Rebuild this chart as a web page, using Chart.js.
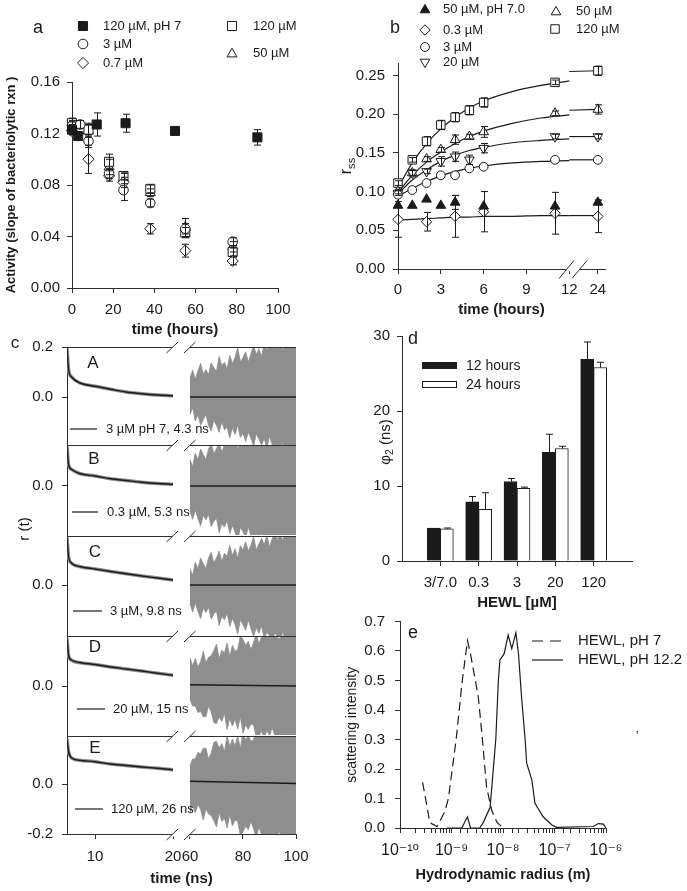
<!DOCTYPE html>
<html>
<head>
<meta charset="utf-8">
<title>HEWL figure</title>
<script src="https://cdn.jsdelivr.net/npm/chart.js@4.4.1/dist/chart.umd.min.js"></script>
<style>
  html, body { margin: 0; padding: 0; background: #fff; }
  body { position: relative; width: 687px; height: 891px; overflow: hidden; }
  canvas { position: absolute; }
</style>
</head>
<body>
<script>
// ---- panel a: lytic activity vs. time ----
const actT       = [0, 8, 18, 25, 38, 55, 78];
const actT3      = [0, 4, 8, 18, 25, 38, 55, 78];
const actT_pH7   = [0, 3, 12, 26, 50, 90];
const act_pH7    = [0.123, 0.118, 0.127, 0.128, 0.122, 0.117];
const actErr_pH7 = [0.004, 0.003, 0.009, 0.007, 0.002, 0.006];
const act3       = [0.126, 0.127, 0.114, 0.089, 0.076, 0.066, 0.046, 0.036];
const actErr3    = [0.004, 0.003, 0.005, 0.004, 0.008, 0.003, 0.004, 0.003];
const act07      = [0.122, 0.100, 0.087, 0.082, 0.046, 0.029, 0.021];
const actErr07   = [0.003, 0.011, 0.004, 0.004, 0.004, 0.005, 0.003];
const act120     = [0.128, 0.123, 0.098, 0.087, 0.077, 0.043, 0.028];
const actErr120  = [0.004, 0.005, 0.006, 0.003, 0.003, 0.004, 0.003];
const act50      = [0.125, 0.122, 0.094, 0.085, 0.074, 0.047, 0.032];
const actErr50   = [0.004, 0.005, 0.006, 0.004, 0.003, 0.007, 0.004];

// ---- panel b: steady state anisotropy ----
const rssTicks  = [0, 3, 6, 9, 12, 24];
const rssT      = [0, 1, 2, 3, 4, 5, 6, 11, 24];
const rss120    = [0.111, 0.141, 0.165, 0.186, 0.196, 0.205, 0.215, 0.241, 0.256];
const rssErr120 = [0.003, 0.003, 0.006, 0.006, 0.006, 0.006, 0.006, 0.003, 0.006];
const rss50     = [0.100, 0.124, 0.142, 0.154, 0.167, 0.171, 0.177, 0.201, 0.206];
const rssErr50  = [0.003, 0.004, 0.003, 0.003, 0.006, 0.003, 0.007, 0.003, 0.006];
const rss20     = [0.098, 0.124, 0.126, 0.139, 0.145, 0.141, 0.156, 0.171, 0.171];
const rssErr20  = [0.003, 0.003, 0.003, 0.006, 0.006, 0.006, 0.006, 0.003, 0.003];
const rss3      = [0.096, 0.102, 0.111, 0.121, 0.121, 0.130, 0.132, 0.141, 0.141];
const rssT03    = [0, 2, 4, 6, 11, 24];
const rss03     = [0.064, 0.061, 0.068, 0.074, 0.072, 0.068];
const rssErr03  = [0.023, 0.012, 0.027, 0.026, 0.027, 0.021];
const rssT7     = [0, 1, 2, 3, 4, 6, 11, 24];
const rss7      = [0.082, 0.082, 0.090, 0.082, 0.086, 0.081, 0.081, 0.086];
const rssErr7   = [0, 0, 0, 0, 0.009, 0, 0, 0.003];
// fitted curves
const fitT      = [0, 1, 2, 3, 4, 5, 6, 8, 10, 12];
const fit120    = [0.105, 0.137, 0.162, 0.181, 0.196, 0.208, 0.217, 0.229, 0.237, 0.243];
const fit50     = [0.099, 0.121, 0.138, 0.151, 0.162, 0.171, 0.178, 0.188, 0.195, 0.199];
const fit20     = [0.097, 0.115, 0.128, 0.139, 0.147, 0.153, 0.157, 0.163, 0.166, 0.168];
const fit3      = [0.094, 0.104, 0.113, 0.120, 0.126, 0.130, 0.133, 0.137, 0.139, 0.140];
const fit03     = [0.063, 0.064, 0.065, 0.066, 0.067, 0.067, 0.068, 0.068, 0.069, 0.069];
const fitLateT  = [12, 24];
const fitLate120 = [0.255, 0.256];
const fitLate50  = [0.205, 0.206];
const fitLate20  = [0.171, 0.171];
const fitLate3   = [0.141, 0.141];
const fitLate03  = [0.069, 0.069];

// ---- panel c: anisotropy decays r(t) ----
const cTicks  = [10, 20, 60, 80, 100];
const decayT  = [6.4, 6.6, 7, 8, 10, 12, 14, 16, 18, 20];
const decayA  = [0.20, 0.11, 0.08, 0.057, 0.043, 0.031, 0.020, 0.013, 0.008, 0.005];
const decayB  = [0.16, 0.085, 0.066, 0.050, 0.040, 0.029, 0.022, 0.015, 0.010, 0.007];
const decayC  = [0.19, 0.113, 0.087, 0.074, 0.064, 0.054, 0.045, 0.036, 0.028, 0.020];
const decayD  = [0.19, 0.123, 0.103, 0.094, 0.086, 0.076, 0.068, 0.060, 0.051, 0.043];
const decayE  = [0.18, 0.13, 0.104, 0.095, 0.089, 0.080, 0.074, 0.068, 0.063, 0.057];
const tailT   = [60, 100];
const tailA   = [0, 0];
const tailB   = [0, 0];
const tailC   = [0, 0];
const tailD   = [0.005, 0];
const tailE   = [0.011, 0.002];
// ragged noise envelope of the late-time signal (upper / lower edge)
const envT = [60, 61, 62, 63, 64, 65, 66, 67, 68, 69, 70, 71, 72, 73, 74, 75, 76, 77, 78, 79, 80,
              81, 82, 83, 84, 85, 86, 87, 88, 89, 90, 91, 92, 93, 94, 95, 96, 97, 98, 99, 100];
const upA = [0.075, 0.108, 0.072, 0.105, 0.134, 0.092, 0.110, 0.089, 0.137, 0.116, 0.104, 0.162, 0.126, 0.139, 0.113, 0.166, 0.134, 0.158, 0.196, 0.140, 0.158,
             0.181, 0.140, 0.173, 0.207, 0.170, 0.193, 0.162, 0.215, 0.189, 0.202, 0.240, 0.189, 0.207, 0.231, 0.184, 0.227, 0.251, 0.214, 0.243, 0.230];
const loA = [-0.070, -0.043, -0.096, -0.070, -0.113, -0.091, -0.070, -0.113, -0.136, -0.094, -0.113, -0.141, -0.099, -0.132, -0.120, -0.164, -0.122, -0.150, -0.113, -0.162, -0.145,
             -0.178, -0.141, -0.164, -0.198, -0.146, -0.169, -0.192, -0.166, -0.204, -0.157, -0.190, -0.219, -0.187, -0.210, -0.183, -0.237, -0.205, -0.218, -0.236, -0.205];
const upB = [0.105, 0.078, 0.131, 0.105, 0.148, 0.126, 0.105, 0.148, 0.171, 0.129, 0.148, 0.176, 0.134, 0.167, 0.155, 0.199, 0.157, 0.185, 0.148, 0.197, 0.180,
             0.213, 0.176, 0.199, 0.233, 0.181, 0.204, 0.227, 0.201, 0.239, 0.192, 0.225, 0.254, 0.222, 0.245, 0.218, 0.272, 0.240, 0.253, 0.271, 0.240];
const loB = [-0.100, -0.133, -0.097, -0.130, -0.159, -0.117, -0.135, -0.114, -0.162, -0.141, -0.129, -0.187, -0.151, -0.164, -0.138, -0.191, -0.159, -0.183, -0.221, -0.165, -0.183,
             -0.206, -0.165, -0.198, -0.232, -0.195, -0.218, -0.187, -0.240, -0.214, -0.227, -0.265, -0.214, -0.232, -0.256, -0.209, -0.252, -0.276, -0.239, -0.268, -0.255];
const upC = [0.065, 0.038, 0.091, 0.065, 0.108, 0.086, 0.065, 0.108, 0.131, 0.089, 0.108, 0.136, 0.094, 0.127, 0.115, 0.159, 0.117, 0.145, 0.108, 0.157, 0.140,
             0.173, 0.136, 0.159, 0.193, 0.141, 0.164, 0.187, 0.161, 0.199, 0.152, 0.185, 0.214, 0.182, 0.205, 0.178, 0.232, 0.200, 0.213, 0.231, 0.200];
const loC = [-0.075, -0.108, -0.072, -0.105, -0.134, -0.092, -0.110, -0.089, -0.137, -0.116, -0.104, -0.162, -0.126, -0.139, -0.113, -0.166, -0.134, -0.158, -0.196, -0.140, -0.158,
             -0.181, -0.140, -0.173, -0.207, -0.170, -0.193, -0.162, -0.215, -0.189, -0.202, -0.240, -0.189, -0.207, -0.231, -0.184, -0.227, -0.251, -0.214, -0.243, -0.230];
const upD = [0.113, 0.080, 0.110, 0.077, 0.097, 0.139, 0.094, 0.115, 0.121, 0.142, 0.167, 0.109, 0.144, 0.131, 0.171, 0.118, 0.163, 0.139, 0.145, 0.201, 0.186,
             0.163, 0.178, 0.145, 0.175, 0.212, 0.167, 0.198, 0.194, 0.220, 0.245, 0.207, 0.212, 0.194, 0.189, 0.236, 0.256, 0.232, 0.248, 0.219, 0.235];
const loD = [-0.053, -0.080, -0.080, -0.106, -0.101, -0.123, -0.123, -0.080, -0.104, -0.146, -0.151, -0.123, -0.142, -0.109, -0.174, -0.130, -0.160, -0.132, -0.172, -0.123, -0.188,
             -0.155, -0.174, -0.151, -0.156, -0.208, -0.202, -0.179, -0.214, -0.176, -0.200, -0.167, -0.197, -0.229, -0.193, -0.220, -0.215, -0.247, -0.246, -0.228, -0.215];
const upE = [0.073, 0.100, 0.100, 0.126, 0.121, 0.143, 0.143, 0.100, 0.124, 0.166, 0.171, 0.143, 0.162, 0.129, 0.194, 0.150, 0.180, 0.152, 0.192, 0.143, 0.208,
             0.175, 0.194, 0.171, 0.176, 0.228, 0.222, 0.199, 0.234, 0.196, 0.220, 0.187, 0.217, 0.249, 0.213, 0.240, 0.235, 0.267, 0.266, 0.248, 0.235];
const loE = [-0.118, -0.085, -0.115, -0.082, -0.102, -0.144, -0.099, -0.120, -0.126, -0.147, -0.172, -0.114, -0.149, -0.136, -0.176, -0.123, -0.168, -0.144, -0.150, -0.206, -0.191,
             -0.168, -0.183, -0.150, -0.180, -0.217, -0.172, -0.203, -0.199, -0.225, -0.250, -0.212, -0.217, -0.199, -0.194, -0.241, -0.261, -0.237, -0.253, -0.224, -0.240];

// ---- panel d: rotational correlation time ----
const hewlCats = ['3/7.0', '0.3', '3', '20', '120'];
const phi12    = [4.4, 7.9, 10.6, 14.5, 26.9];
const phiErr12 = [0, 0.7, 0.4, 2.4, 2.3];
const phi24    = [4.3, 6.9, 9.7, 15.0, 25.8];
const phiErr24 = [0.1, 2.2, 0.15, 0.3, 0.7];

// ---- panel e: DLS size distribution ----
const radius7  = [2.75e-10, 3.8e-10, 5.25e-10, 7.4e-10, 8.7e-10, 1.23e-9, 1.62e-9, 2.04e-9, 2.34e-9, 3.31e-9, 3.89e-9, 4.79e-9, 6.03e-9, 7.59e-9, 1.0e-8];
const scat7    = [0.155, 0.018, 0.005, 0.055, 0.10, 0.30, 0.50, 0.635, 0.59, 0.445, 0.32, 0.14, 0.06, 0.02, 0.0];
const radius12 = [8.1e-10, 1.58e-9, 2.04e-9, 2.34e-9, 3.55e-9, 4.17e-9, 5.62e-9, 7.24e-9, 8.13e-9, 8.71e-9, 1.05e-8, 1.26e-8, 1.48e-8, 1.78e-8, 2.0e-8, 2.29e-8, 2.69e-8, 2.88e-8, 3.63e-8, 4.17e-8, 6.03e-8, 8.91e-8, 1.1e-7, 5.62e-7, 7.08e-7, 8.91e-7, 1.0e-6];
const scat12   = [0, 0, 0.038, 0, 0, 0.02, 0.07, 0.30, 0.50, 0.57, 0.59, 0.654, 0.608, 0.662, 0.59, 0.445, 0.30, 0.22, 0.163, 0.084, 0.038, 0.01, 0.002, 0.005, 0.015, 0.013, 0];

// ------------------------------------------------------------------
const FAM  = '"Liberation Sans", Arial, "DejaVu Sans", sans-serif';
const INK  = '#1b1b1b';
const AXIS = '#2e2e2e';
const GRAY = '#8e8e8e';

Chart.defaults.font.family = FAM;
Chart.defaults.font.size = 15;
Chart.defaults.color = INK;
Chart.defaults.animation = false;
Chart.defaults.events = [];
Chart.defaults.plugins.legend.display = false;
Chart.defaults.plugins.tooltip.enabled = false;

const SYM = {
  fsq:  {style: 'rect', r: 6.4, fill: INK},
  sq:   {style: 'rect', r: 6.4, fill: '#fff'},
  ci:   {style: 'circle', r: 4.8, fill: '#fff'},
  di:   {style: 'rectRot', r: 5.6, fill: '#fff'},
  tri:  {style: 'triangle', r: 5.8, fill: '#fff'},
};
const SB = {
  sq:   {style: 'rect', r: 6, fill: '#fff'},
  ci:   {style: 'circle', r: 4.4, fill: '#fff'},
  di:   {style: 'rectRot', r: 5.2, fill: '#fff'},
  tri:  {style: 'triangle', r: 5.6, fill: '#fff'},
  ftri: {style: 'triangle', r: 5.6, fill: INK},
  tdn:  {style: 'triangle', r: 5.6, fill: '#fff', rot: 180},
};

// broken axes: map real time onto a compressed position
const bx = t => t <= 12 ? t : 12.9 + (t - 12) * 1.1 / 12;
const cx = t => t <= 20 ? t : 22.18 + (t - 60) * 0.34;

function markers(xs, ys, s, err, mapX) {
  return {
    showLine: false,
    data: xs.map((t, i) => ({x: mapX ? mapX(t) : t, y: ys[i]})),
    pointStyle: s.style, pointRadius: s.r, pointRotation: s.rot || 0,
    pointBackgroundColor: s.fill, pointBorderColor: INK, pointBorderWidth: 1,
    err: err, clip: false,
  };
}

function curve(xs, ys, extra) {
  return Object.assign({
    data: xs.map((t, i) => ({x: t, y: ys[i]})),
    borderColor: INK, borderWidth: 1.2, pointRadius: 0, fill: false, tension: 0,
  }, extra);
}

function axis(o) {
  return Object.assign({
    border: {color: AXIS, width: 1},
    grid: {drawOnChartArea: false, drawTicks: true, tickLength: 5, color: AXIS, offset: false},
  }, o);
}

const xTitle = (text, pb, size) => ({display: true, text: text, font: {size: size || 15, weight: 'bold'}, padding: {top: 0, bottom: pb}});

// vertical error bars (both ways, or only upward for bars)
const errorBars = {
  id: 'errorBars',
  afterDatasetsDraw(chart) {
    const ctx = chart.ctx;
    chart.data.datasets.forEach((ds, i) => {
      if (!ds.err) return;
      const meta = chart.getDatasetMeta(i);
      const ys = chart.scales[meta.yAxisID];
      ctx.save();
      ctx.strokeStyle = INK;
      ctx.lineWidth = 1;
      meta.data.forEach((el, j) => {
        const e = ds.err[j];
        if (!e) return;
        const d = ds.data[j];
        const v = (d !== null && typeof d === 'object') ? d.y : d;
        const x = Math.round(el.x) + 0.5, cap = 3.5;
        const top = ys.getPixelForValue(v + e);
        const bot = ys.getPixelForValue(ds.errUp ? v : v - e);
        ctx.beginPath();
        ctx.moveTo(x, top); ctx.lineTo(x, bot);
        ctx.moveTo(x - cap, top); ctx.lineTo(x + cap, top);
        if (!ds.errUp) { ctx.moveTo(x - cap, bot); ctx.lineTo(x + cap, bot); }
        ctx.stroke();
      });
      ctx.restore();
    });
  }
};

function drawItem(ctx, it) {
  ctx.save();
  const col = it.color || INK;
  ctx.fillStyle = col;
  ctx.strokeStyle = col;
  if (it.mark) {
    ctx.fillStyle = it.mark.fill;
    ctx.strokeStyle = INK;
    ctx.lineWidth = 1;
    Chart.helpers.drawPoint(ctx, {pointStyle: it.mark.style, radius: it.mark.r, rotation: it.mark.rot || 0, borderWidth: 1}, it.x, it.y);
  } else if (it.line) {
    ctx.lineWidth = it.w || 1.2;
    ctx.setLineDash(it.dash || []);
    ctx.beginPath();
    ctx.moveTo(it.line[0], it.y);
    ctx.lineTo(it.line[1], it.y);
    ctx.stroke();
  } else if (it.box) {
    ctx.fillStyle = it.fill;
    ctx.strokeStyle = INK;
    ctx.lineWidth = 1;
    ctx.fillRect(it.box[0], it.box[1], it.box[2], it.box[3]);
    ctx.strokeRect(it.box[0], it.box[1], it.box[2], it.box[3]);
  } else {
    const size = it.size || 13;
    ctx.translate(it.x, it.y);
    if (it.rot) ctx.rotate(it.rot * Math.PI / 180);
    const runs = it.runs || [[it.text, false]];
    const fontOf = sub => (it.bold ? 'bold ' : '') + (sub ? size * 0.7 : size) + 'px ' + FAM;
    let total = 0;
    runs.forEach(r => { ctx.font = fontOf(r[1]); total += ctx.measureText(r[0]).width; });
    let x = (it.align === 'center' || it.runs) ? -total / 2 : (it.align === 'right' ? -total : 0);
    ctx.textBaseline = 'middle';
    ctx.textAlign = 'left';
    runs.forEach(r => {
      ctx.font = fontOf(r[1]);
      ctx.fillText(r[0], x, r[1] ? size * 0.3 : 0);
      x += ctx.measureText(r[0]).width;
    });
  }
  ctx.restore();
}

function drawBreak(ctx, b) {
  ctx.save();
  ctx.fillStyle = '#fff';
  ctx.fillRect(b.x - b.gap, b.y - 2, 2 * b.gap, 4);
  ctx.strokeStyle = AXIS;
  ctx.lineWidth = 1;
  [-b.off, b.off].forEach(d => {
    ctx.beginPath();
    ctx.moveTo(b.x + d - b.hw, b.y + b.hh);
    ctx.lineTo(b.x + d + b.hw, b.y - b.hh);
    ctx.stroke();
  });
  ctx.restore();
}

// texts, legends, frame lines and axis breaks, given in page coordinates
function overlay(ox, oy, items, breaks) {
  return {
    id: 'overlay',
    afterDraw(chart) {
      const ctx = chart.ctx;
      ctx.save();
      ctx.translate(-ox, -oy);
      items.forEach(it => drawItem(ctx, it));
      breaks.forEach(b => drawBreak(ctx, b));
      ctx.restore();
    }
  };
}

// box = canvas rect on the page, area = wanted plot area on the page
function makeChart(box, area, config, items, breaks) {
  const [bl, bt, bw, bh] = box;
  const cv = document.createElement('canvas');
  cv.width = bw; cv.height = bh;
  cv.style.left = bl + 'px'; cv.style.top = bt + 'px';
  cv.style.width = bw + 'px'; cv.style.height = bh + 'px';
  document.body.appendChild(cv);
  const o = config.options;
  const xs = o.scales.x, ys = o.scales.y;
  const xShown = xs.display !== false;
  o.responsive = false;
  o.maintainAspectRatio = false;
  o.layout = {padding: {left: 0, top: area.t - bt, right: bl + bw - area.r, bottom: xShown ? 0 : bt + bh - area.b}};
  ys.afterFit = s => { s.width = area.l - bl; };
  if (xShown) xs.afterFit = s => { s.height = bt + bh - area.b; };
  config.plugins = [errorBars, overlay(bl, bt, items || [], breaks || [])];
  return new Chart(cv.getContext('2d'), config);
}

// ================= panel a =================
makeChart([0, 0, 340, 345], {l: 72, t: 82, r: 278, b: 288}, {
  type: 'line',
  data: {datasets: [
    markers(actT_pH7, act_pH7, SYM.fsq, actErr_pH7),
    markers(actT3, act3, SYM.ci, actErr3),
    markers(actT, act07, SYM.di, actErr07),
    markers(actT, act120, SYM.sq, actErr120),
    markers(actT, act50, SYM.tri, actErr50),
  ]},
  options: {scales: {
    x: axis({type: 'linear', min: 0, max: 100, ticks: {stepSize: 20, padding: 8, maxRotation: 0},
      title: xTitle('time (hours)', 6)}),
    y: axis({min: 0, max: 0.16, ticks: {stepSize: 0.04, padding: 7, callback: v => v.toFixed(2)},
      title: {display: true, text: 'Activity (slope of bacteriolytic rxn )', font: {size: 13, weight: 'bold'}, padding: {top: 4, bottom: 0}}}),
  }}
}, [
  {text: 'a', x: 38, y: 28, size: 18, align: 'center'},
  {mark: SYM.fsq, x: 83, y: 26}, {text: '120 µM, pH 7', x: 103, y: 26},
  {mark: SYM.ci, x: 83, y: 44},  {text: '3 µM', x: 103, y: 44},
  {mark: SYM.di, x: 83, y: 63},  {text: '0.7 µM', x: 103, y: 63},
  {mark: SYM.sq, x: 232, y: 26}, {text: '120 µM', x: 253, y: 26},
  {mark: SYM.tri, x: 232, y: 54}, {text: '50 µM', x: 253, y: 53},
]);

// ================= panel b =================
const fitStyle = {cubicInterpolationMode: 'monotone'};
makeChart([340, 0, 347, 330], {l: 398, t: 63, r: 605, b: 269}, {
  type: 'line',
  data: {datasets: [
    markers(rssT7, rss7, SB.ftri, rssErr7, bx),
    markers(rssT03, rss03, SB.di, rssErr03, bx),
    markers(rssT, rss3, SB.ci, null, bx),
    markers(rssT, rss20, SB.tdn, rssErr20, bx),
    markers(rssT, rss50, SB.tri, rssErr50, bx),
    markers(rssT, rss120, SB.sq, rssErr120, bx),
    curve(fitT, fit120, fitStyle), curve(fitT, fit50, fitStyle), curve(fitT, fit20, fitStyle),
    curve(fitT, fit3, fitStyle), curve(fitT, fit03, fitStyle),
    curve(fitLateT.map(bx), fitLate120), curve(fitLateT.map(bx), fitLate50), curve(fitLateT.map(bx), fitLate20),
    curve(fitLateT.map(bx), fitLate3), curve(fitLateT.map(bx), fitLate03),
  ]},
  options: {scales: {
    x: axis({type: 'linear', min: 0, max: 14.5,
      afterBuildTicks: s => { s.ticks = rssTicks.map(t => ({value: bx(t)})); },
      ticks: {padding: 7, autoSkip: false, maxRotation: 0, callback: (v, i) => String(rssTicks[i])},
      title: xTitle('time (hours)', 11)}),
    y: axis({min: 0, max: 0.266,
      afterBuildTicks: s => { s.ticks = [0, 0.05, 0.1, 0.15, 0.2, 0.25].map(v => ({value: v})); },
      ticks: {padding: 8, callback: v => v.toFixed(2)}}),
  }}
}, [
  {text: 'b', x: 395, y: 28, size: 18, align: 'center'},
  {mark: SB.ftri, x: 425, y: 10}, {text: '50 µM, pH 7.0', x: 443, y: 9},
  {mark: SB.di, x: 425, y: 30},   {text: '0.3 µM', x: 443, y: 30},
  {mark: SB.ci, x: 425, y: 47},   {text: '3 µM', x: 443, y: 47},
  {mark: SB.tdn, x: 425, y: 62},  {text: '20 µM', x: 443, y: 62},
  {mark: SB.tri, x: 556, y: 12},  {text: '50 µM', x: 576, y: 11},
  {mark: SB.sq, x: 555, y: 29},   {text: '120 µM', x: 576, y: 29},
  {runs: [['r', false], ['ss', true]], x: 347, y: 166, rot: -90, size: 16},
], [{x: 573, y: 269.5, gap: 7, off: 6.5, hw: 7.5, hh: 9}]);

// ================= panel c (five stacked decays) =================
const cPanels = [
  {letter: 'A', note: '3 µM pH 7, 4.3 ns', decay: decayA, tail: tailA, up: upA, lo: loA},
  {letter: 'B', note: '0.3 µM, 5.3 ns',    decay: decayB, tail: tailB, up: upB, lo: loB},
  {letter: 'C', note: '3 µM, 9.8 ns',      decay: decayC, tail: tailC, up: upC, lo: loC},
  {letter: 'D', note: '20 µM, 15 ns',      decay: decayD, tail: tailD, up: upD, lo: loD},
  {letter: 'E', note: '120 µM, 26 ns',     decay: decayE, tail: tailE, up: upE, lo: loE},
];
const cLayout = [
  {top: 327, h: 138, t: 347, b: 445, min: -0.192, max: 0.2,   ticks: [0.2, 0],  letter: [93, 363], key: [70, 97, 429, 106]},
  {top: 425, h: 130, t: 445, b: 535, min: -0.196, max: 0.164, ticks: [0],       letter: [94, 459], key: [72, 98, 512, 107]},
  {top: 516, h: 140, t: 536, b: 636, min: -0.204, max: 0.196, ticks: [0],       letter: [95, 552], key: [73, 102, 611, 110]},
  {top: 616, h: 139, t: 636, b: 735, min: -0.196, max: 0.2,   ticks: [0],       letter: [95, 647], key: [77, 105, 709, 113]},
  {top: 716, h: 175, t: 736, b: 834, min: -0.2,   max: 0.192, ticks: [0, -0.2], letter: [95, 748], key: [75, 103, 809, 111]},
];
const cBreak = {gap: 9, off: 8.75, hw: 5.75, hh: 5.5};

cPanels.forEach((p, k) => {
  const L = cLayout[k];
  const last = k === cPanels.length - 1;
  const items = [
    {line: [67, 296], y: L.t + 0.5, w: 1, color: AXIS},
    {text: p.letter, x: L.letter[0], y: L.letter[1], size: 17, align: 'center'},
    {line: [L.key[0], L.key[1]], y: L.key[2], w: 1.2},
    {text: p.note, x: L.key[3], y: L.key[2], size: 13},
  ];
  if (k === 0) items.push({text: 'c', x: 15, y: 343, size: 17, align: 'center'});
  if (k === 2) items.push({text: 'r (t)', x: 25, y: 529, size: 15, rot: -90, align: 'center'});
  const breaks = [Object.assign({x: 181, y: L.t + 0.5}, cBreak)];
  if (last) breaks.push(Object.assign({x: 181, y: L.b + 0.5}, cBreak));

  makeChart([0, L.top, 340, L.h], {l: 67, t: L.t, r: 296, b: L.b}, {
    type: 'line',
    data: {datasets: [
      curve(decayT, p.decay, {borderWidth: 1.4, cubicInterpolationMode: 'monotone'}),
      curve(tailT.map(cx), p.tail, {borderWidth: 1.4}),
      curve(decayT, p.decay, {borderColor: GRAY, borderWidth: 3.5, cubicInterpolationMode: 'monotone'}),
      curve(envT.map(cx), p.up, {borderColor: GRAY, borderWidth: 0.8, backgroundColor: GRAY, fill: '+1'}),
      curve(envT.map(cx), p.lo, {borderColor: GRAY, borderWidth: 0.8}),
    ]},
    options: {scales: {
      x: axis({type: 'linear', min: 6.4, max: cx(100), display: last,
        afterBuildTicks: s => { s.ticks = cTicks.map(t => ({value: cx(t)})); },
        ticks: {padding: 9, autoSkip: false, maxRotation: 0, callback: (v, i) => String(cTicks[i])},
        title: xTitle('time (ns)', 3)}),
      y: axis({min: L.min, max: L.max,
        afterBuildTicks: s => { s.ticks = L.ticks.map(v => ({value: v})); },
        ticks: {padding: 9, callback: v => v.toFixed(1)}}),
    }}
  }, items, breaks);
});

// ================= panel d =================
const pad = a => [null].concat(a, [null]);
makeChart([340, 320, 347, 300], {l: 402, t: 332, r: 632, b: 561}, {
  type: 'bar',
  data: {
    labels: pad(hewlCats).map(s => s || ''),
    datasets: [
      {label: '12 hours', data: pad(phi12), backgroundColor: INK, borderColor: INK, borderWidth: 1, barThickness: 13, err: pad(phiErr12), errUp: true},
      {label: '24 hours', data: pad(phi24), backgroundColor: '#fff', borderColor: INK, borderWidth: 1, barThickness: 13, err: pad(phiErr24), errUp: true},
    ]
  },
  options: {scales: {
    x: axis({offset: false, afterBuildTicks: s => { s.ticks = s.ticks.slice(1, -1); },
      ticks: {padding: 8, autoSkip: false, maxRotation: 0},
      title: xTitle('HEWL [µM]', 8)}),
    y: axis({min: 0, max: 30, ticks: {stepSize: 10, padding: 7}}),
  }}
}, [
  {text: 'd', x: 413, y: 339, size: 18, align: 'center'},
  {box: [422.5, 362.5, 34, 6], fill: INK},  {text: '12 hours', x: 466, y: 366, size: 14},
  {box: [422.5, 381.5, 34, 6], fill: '#fff'}, {text: '24 hours', x: 466, y: 385, size: 14},
  {runs: [['\u03c6', false], ['2', true], [' (ns)', false]], x: 386, y: 442, rot: -90, size: 15},
]);

// ================= panel e =================
const SUP = {'-': '\u207b', '0': '\u2070', '1': '\u00b9', '2': '\u00b2', '3': '\u00b3', '4': '\u2074', '5': '\u2075', '6': '\u2076', '7': '\u2077', '8': '\u2078', '9': '\u2079'};
const decade = v => {
  const e = Math.log10(v), r = Math.round(e);
  return Math.abs(e - r) < 1e-6 ? '10' + String(r).split('').map(c => SUP[c]).join('') : '';
};
makeChart([340, 600, 347, 291], {l: 400, t: 621.5, r: 606, b: 828}, {
  type: 'line',
  data: {datasets: [
    curve(radius7, scat7, {borderDash: [9, 5], borderWidth: 1.2}),
    curve(radius12, scat12, {borderWidth: 1.2}),
  ]},
  options: {scales: {
    x: axis({type: 'logarithmic', min: 1e-10, max: 1e-6,
      ticks: {padding: 8, autoSkip: false, maxRotation: 0, font: {size: 16}, callback: v => decade(v)},
      title: xTitle('Hydrodynamic radius (m)', 7, 14.5)}),
    y: axis({min: 0, max: 0.7, ticks: {stepSize: 0.1, padding: 10, callback: v => v.toFixed(1)},
      title: {display: true, text: 'scattering intensity', font: {size: 14}, padding: {top: 3.6, bottom: 0}}}),
  }}
}, [
  {text: 'e', x: 413, y: 633, size: 18, align: 'center'},
  {line: [532, 563], y: 641, dash: [11, 7]}, {text: 'HEWL, pH 7', x: 578, y: 641, size: 15},
  {line: [532, 563], y: 660},                {text: 'HEWL, pH 12.2', x: 578, y: 660, size: 15},
  {text: '\u2019', x: 636, y: 737, size: 12},
]);
</script>
</body>
</html>
